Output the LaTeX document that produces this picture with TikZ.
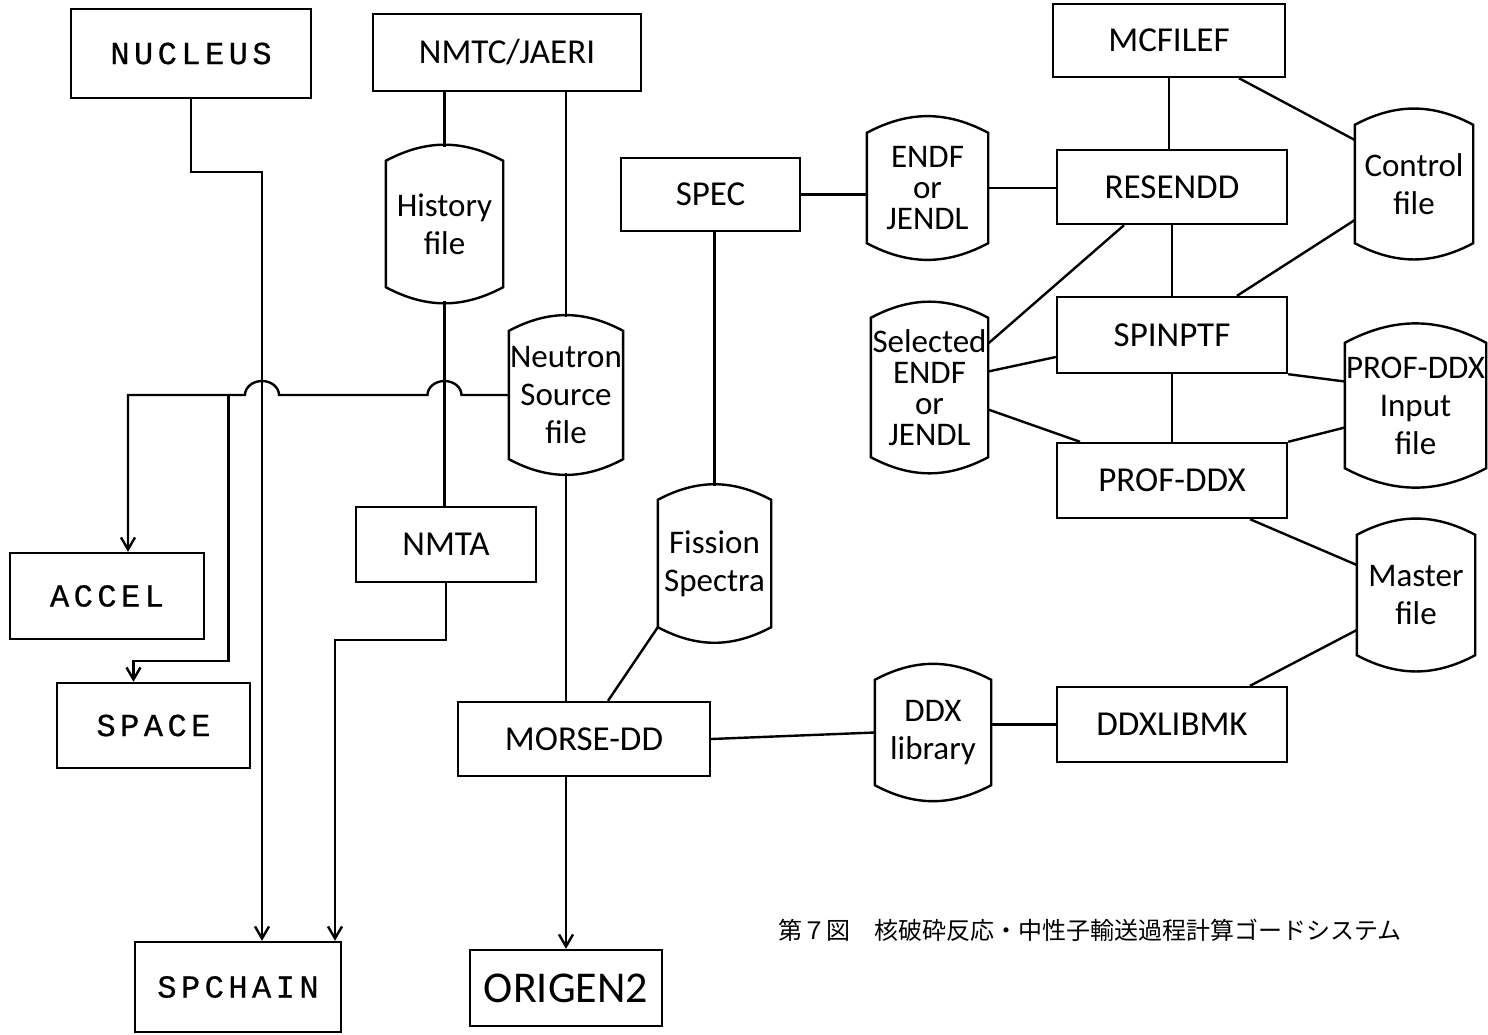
\documentclass[tikz,border=0pt]{standalone}
\usepackage{fontspec}
\usetikzlibrary{arrows.meta,calc}
\newfontfamily\lblfont{Carlito}
\newfontfamily\twfont[LetterSpace=14,FakeBold=0.6]{Liberation Mono}
\newfontfamily\cjkfont{Noto Sans CJK JP}
\tikzset{
  prog/.style 2 args={draw, minimum width=#1pt, minimum height=#2pt, inner sep=0pt,
    font=\lblfont\fontsize{35}{40}\selectfont},
  tprog/.style 2 args={prog={#1}{#2}, font=\twfont\fontsize{32}{36}\selectfont},
  dfile/.style 2 args={minimum width=#1pt, minimum height=#2pt, inner sep=0pt, align=center,
    font=\lblfont\fontsize{33}{38}\selectfont},
  dense/.style={font=\lblfont\fontsize{33}{31}\selectfont},
  arr/.style={-{Straight Barb[length=12pt,width=14pt]}}
}
\begin{document}
\begin{tikzpicture}[x=1pt,y=-1pt,line width=2.4pt]
\useasboundingbox (0,0) rectangle (1488,1034);

% programs
\node[tprog={240}{89}] (nucl) at (191,53.5) {NUCLEUS};
\node[prog={268}{77}] (nmtc) at (507,52.5) {NMTC/JAERI};
\node[prog={232}{73}] (mcfi) at (1169,40.5) {MCFILEF};
\node[prog={179}{73}] (spec) at (710.5,194.5) {SPEC};
\node[prog={230}{74}] (resn) at (1172,187) {RESENDD};
\node[prog={230}{76}] (spin) at (1172,335) {SPINPTF};
\node[prog={230}{75}] (prof) at (1172,480.5) {PROF-DDX};
\node[prog={230}{75}] (dlib) at (1172,724.5) {DDXLIBMK};
\node[tprog={194}{86}] (accl) at (107,596) {ACCEL};
\node[tprog={193}{85}] (spac) at (153.5,725.5) {SPACE};
\node[prog={180}{75}] (nmta) at (446,544.5) {NMTA};
\node[prog={252}{74}] (mors) at (584,739) {MORSE-DD};
\node[tprog={206}{90}] (spch) at (238,987) {SPCHAIN};
\node[prog={192}{76}, font=\lblfont\fontsize{44}{50}\selectfont] (orig) at (566,988) {ORIGEN2};

% files
\node[dfile={115}{152}] (hist) at (444.5,224) {History\\file};
\node[dfile={88}{154}] (nsrc) at (566,395) {Neutron\\Source\\file};
\node[dfile={119}{136}, dense] (endf) at (927.5,188) {ENDF\\or\\JENDL};
\node[dfile={116}{144}] (ctrl) at (1414,184) {Control\\file};
\node[dfile={115}{165}, dense] (sel) at (929.5,387.5) {Selected\\ENDF\\or\\JENDL};
\node[dfile={135}{151}] (pinp) at (1415.5,405.5) {PROF-DDX\\Input\\file};
\node[dfile={111}{153}] (fiss) at (714.5,563.5) {Fission\\Spectra};
\node[dfile={116}{146}] (mast) at (1416,595) {Master\\file};
\node[dfile={114}{131}] (doxl) at (933,732.5) {DDX\\library};
\foreach \n in {hist,nsrc,endf,ctrl,sel,pinp,fiss,mast,doxl}
  \draw ([yshift=-14pt]\n.north west) to[bend left=28] ([yshift=-14pt]\n.north east)
    -- ([yshift=14pt]\n.south east) to[bend left=28] ([yshift=14pt]\n.south west) -- cycle;

% left part
\coordinate (nucl-r) at ([xshift=24pt]spch.north);
\draw[arr] (nucl.south) -- ++(0,73) -| (nucl-r);
\draw[arr] (nmta.south) -- ++(0,57) -| ([xshift=97pt]spch.north);
\draw (hist.north |- nmtc.south) -- (hist.north);
\draw (hist.south) -- (hist.south |- nmta.north);
\draw (nsrc.north |- nmtc.south) -- (nsrc.north);
\draw (nsrc.south) -- (nsrc.south |- mors.north);
\draw[arr] (orig.north |- mors.south) -- (orig.north);
\draw[arr] (nsrc.west) -- ($(hist.south |- nsrc.west)+(17,0)$)
  arc[start angle=0, end angle=180, x radius=17pt, y radius=14pt]
  -- ($(nucl-r |- nsrc.west)+(17,0)$)
  arc[start angle=0, end angle=180, x radius=17pt, y radius=14pt]
  -- ($(accl.north |- nsrc.west)+(21,0)$) -- ($(accl.north)+(21,0)$);
\draw[arr] ($(spac.north |- nsrc.west)+(75,0)$) -- ++(0,266) -| ($(spac.north)+(-20,0)$);

% middle and right part
\draw (fiss.north |- spec.south) -- (fiss.north);
\draw ([yshift=14pt]fiss.south west) -- ([xshift=24pt]mors.north);
\draw (spec.east) -- (spec.east -| endf.west);
\draw (endf.east) -- (endf.east -| resn.west);
\draw (mcfi.south) -- (mcfi.south |- resn.north);
\draw ([xshift=70pt]mcfi.south) -- ([yshift=44pt]ctrl.west);
\draw (resn.south) -- (spin.north);
\draw ([xshift=-48pt]resn.south) -- ([yshift=44pt]sel.east);
\draw ([yshift=-36pt]ctrl.west) -- ([xshift=65pt]spin.north);
\draw ([yshift=16pt]sel.east) -- ([yshift=-22pt]spin.west);
\draw ([yshift=-22pt]sel.east) -- ([xshift=-92pt]prof.north);
\draw (spin.south) -- (prof.north);
\draw (spin.south east) -- ([yshift=24pt]pinp.west);
\draw ([yshift=-22pt]pinp.west) -- (prof.north east);
\draw ([xshift=78pt]prof.south) -- ([yshift=30pt]mast.west);
\draw ([yshift=-35pt]mast.west) -- ([xshift=78pt]dlib.north);
\draw (dlib.west) -- (dlib.west -| doxl.east);
\draw (doxl.west) -- (mors.east);

\node[anchor=west, font=\cjkfont\fontsize{24}{28}\selectfont] (capt) at (774,930)
  {第７図　核破砕反応・中性子輸送過程計算ゴードシステム};
\end{tikzpicture}
\end{document}
